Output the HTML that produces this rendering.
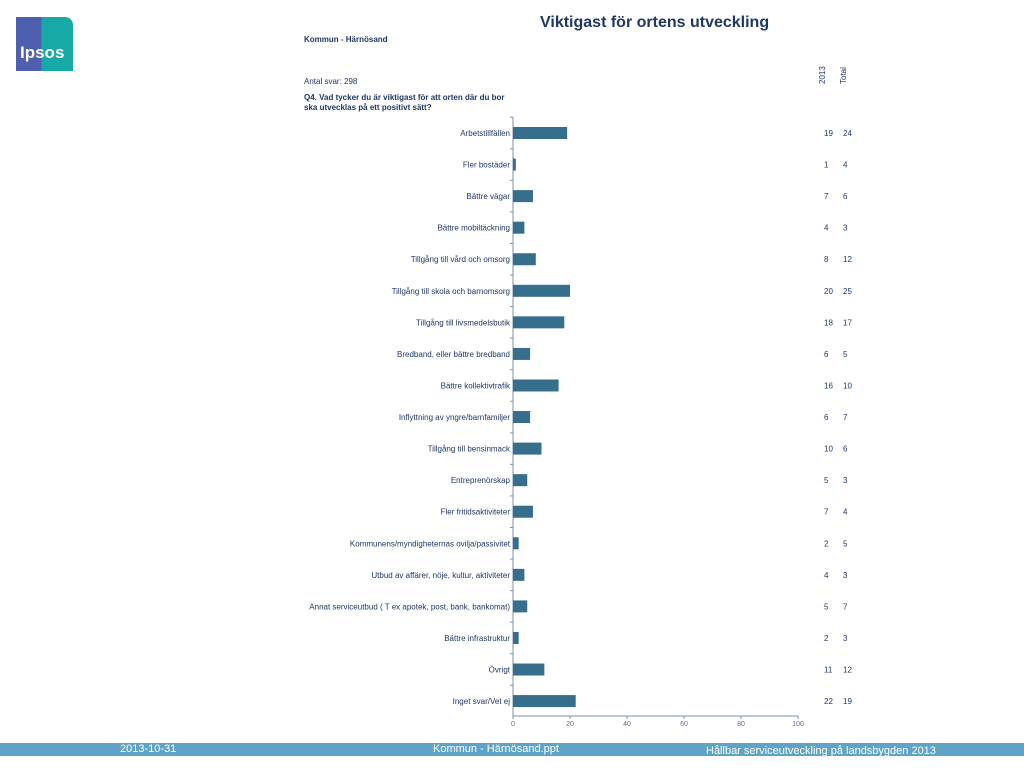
<!DOCTYPE html>
<html><head><meta charset="utf-8"><style>
body{margin:0;width:1024px;height:768px;background:#fff;position:relative;overflow:hidden;font-family:"Liberation Sans",sans-serif;color:#1f3864}
.a{position:absolute;white-space:nowrap}
</style></head><body>
<div class="a" style="left:16px;top:17px;width:57px;height:54px;background:linear-gradient(90deg,#4e5fb0 0 45%,#16a9a5 45%);border-radius:0 8px 0 0">
<div class="a" style="left:4px;top:26px;color:#fff;font-size:17px;font-weight:bold">Ipsos</div></div>
<div class="a" style="left:540px;top:14px;font-size:16px;font-weight:bold;color:#1f3864">Viktigast för ortens utveckling</div>
<div class="a" style="left:304px;top:35px;font-size:8px;font-weight:bold">Kommun - Härnösand</div>
<div class="a" style="left:304px;top:77px;font-size:8px">Antal svar: 298</div>
<div class="a" style="left:304px;top:93px;font-size:8px;font-weight:bold;line-height:10px">Q4. Vad tycker du är viktigast för att orten där du bor<br>ska utvecklas på ett positivt sätt?</div>
<div class="a" style="left:818px;top:84px;font-size:8px;transform:rotate(-90deg);transform-origin:0 0">2013</div>
<div class="a" style="left:839px;top:84px;font-size:8px;transform:rotate(-90deg);transform-origin:0 0">Total</div>
<svg id="c" class="a" style="left:0;top:0" width="1024" height="740"></svg>
<div class="a" style="left:0;top:743px;width:1024px;height:13px;background:#5fa3c6;color:#fff;font-size:11px;line-height:13px">
<span class="a" style="left:120px">2013-10-31</span>
<span class="a" style="left:433px">Kommun - Härnösand.ppt</span>
<span class="a" style="left:706px;top:2px">Hållbar serviceutveckling på landsbygden 2013</span></div>
<script>
const categories=["Arbetstillfällen","Fler bostäder","Bättre vägar","Bättre mobiltäckning","Tillgång till vård och omsorg","Tillgång till skola och barnomsorg","Tillgång till livsmedelsbutik","Bredband, eller bättre bredband","Bättre kollektivtrafik","Inflyttning av yngre/barnfamiljer","Tillgång till bensinmack","Entreprenörskap","Fler fritidsaktiviteter","Kommunens/myndigheternas ovilja/passivitet","Utbud av affärer, nöje, kultur, aktiviteter","Annat serviceutbud ( T ex apotek, post, bank, bankomat)","Bättre infrastruktur","Övrigt","Inget svar/Vet ej"];
const values2013=[19,1,7,4,8,20,18,6,16,6,10,5,7,2,4,5,2,11,22];
const valuesTotal=[24,4,6,3,12,25,17,5,10,7,6,3,4,5,3,7,3,12,19];
const ticks=[0,20,40,60,80,100];
const NS="http://www.w3.org/2000/svg",svg=document.getElementById('c');
const x=v=>513+v*2.85, y=i=>133+i*31.56;
function mk(t,a,txt){const e=document.createElementNS(NS,t);for(const k in a)e.setAttribute(k,a[k]);if(txt!=null)e.textContent=txt;svg.appendChild(e);return e;}
let e=mk('line',{x1:513,x2:513,y1:117,y2:716,stroke:'#7f8fa6'});

e=mk('line',{x1:513,x2:798,y1:716,y2:716,stroke:'#7f8fa6'});

ticks.forEach(t=>{mk('line',{x1:x(t),x2:x(t),y1:716,y2:719,stroke:'#7f8fa6'});
e=mk('text',{x:x(t),y:726,'font-size':7,fill:'#5a6f90','text-anchor':'middle'},t);
});
categories.forEach((c,i)=>{const yc=y(i);
mk('line',{x1:510,x2:513,y1:yc-15.8,y2:yc-15.8,stroke:'#7f8fa6'});
e=mk('text',{x:510,y:yc+3,'font-size':8,fill:'#1f3864','text-anchor':'end'},c);

e=mk('rect',{x:513,y:yc-6,width:x(values2013[i])-513,height:12,fill:'#356f8c'});

e=mk('text',{x:824,y:yc+3,'font-size':8,fill:'#1f3864'},values2013[i]);

e=mk('text',{x:843,y:yc+3,'font-size':8,fill:'#1f3864'},valuesTotal[i]);
});
</script>
</body></html>
